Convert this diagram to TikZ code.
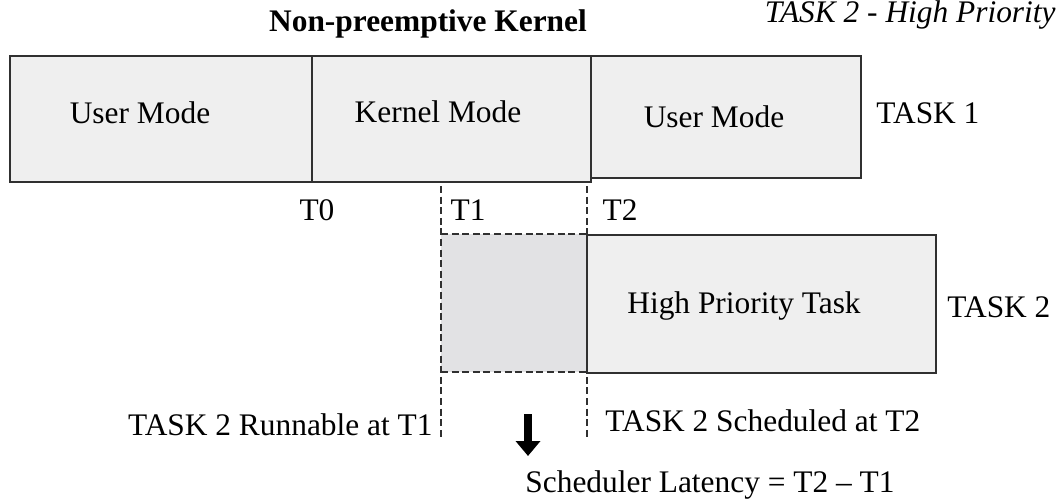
\documentclass[tikz,border=0pt]{standalone}
\usepackage{fontspec}
\setmainfont{Liberation Serif}
\usetikzlibrary{arrows.meta}

\definecolor{boxgray}{HTML}{EFEFEF}
\definecolor{waitgray}{HTML}{E2E2E4}
\definecolor{edgegray}{HTML}{303030}

\tikzset{
		timeline/.style={
			x=0.5pt,y=-0.5pt,
			every node/.style={font=\fontsize{15.7}{19}\selectfont,inner sep=0pt}
		},
		modebox/.style={draw=edgegray,line width=1pt,fill=boxgray},
		waitbox/.style={fill=waitgray},
		marker/.style={draw=edgegray,line width=1.2pt,dash pattern=on 3.5pt off 1.8pt},
		fontbf/.style={font=\fontsize{15.7}{19}\selectfont\bfseries},
		fontit/.style={font=\fontsize{15.7}{19}\selectfont\itshape},
		latency/.style={line width=4pt,-{Triangle[length=7.5pt,width=12pt]}}
	}

\begin{document}
\begin{tikzpicture}[timeline]
	\useasboundingbox (0,0) rectangle (1060,498);

	\node[fontbf] (title) at (428,24) {Non-preemptive Kernel};
	\node[fontit,anchor=base east] (legend) at (1056,23) {TASK 2 - High Priority};

	% task 1
	\draw[modebox] (10,56) rectangle (312,182);
	\draw[modebox] (312,56) rectangle (591,182);
	\draw[modebox] (591,56) rectangle (861,178);
	\node (user1) at (140,113) {User Mode};
	\node (kernel) at (438,112) {Kernel Mode};
	\node (user2) at (714,117) {User Mode};
	\node[anchor=west] (task1) at (876,113) {TASK 1};

	% time marks
	\coordinate (t1top) at (441,186);
	\coordinate (t1bot) at (441,438);
	\coordinate (t2top) at (587,186);
	\coordinate (t2bot) at (587,440);
	\node (t0) at (317,210) {T0};
	\node (t1) at (468,210) {T1};
	\node (t2) at (620,210) {T2};

	% task 2
	\fill[waitbox] (441,234) rectangle (587,372);
	\draw[marker] (441,234) -- (587,234);
	\draw[marker] (441,372) -- (587,372);
	\draw[marker] (t1top) -- (t1bot);
	\draw[marker] (t2top) -- (t2bot);
	\draw[modebox] (587,235) rectangle (936,373);
	\node (hptask) at (744,306) {High Priority Task};
	\node[anchor=west] (task2) at (947,307) {TASK 2};

	\node[anchor=east] (runnable) at (433,425) {TASK 2 Runnable at T1};
	\node[anchor=west] (scheduled) at (605,421) {TASK 2 Scheduled at T2};
	\coordinate (arrtop) at (528,414);
	\coordinate (arrbot) at (528,456);
	\draw[latency] (arrtop) -- (arrbot);
	\node[anchor=west] (latency) at (525,485) {Scheduler Latency = T2 -- T1};
\end{tikzpicture}
\end{document}
